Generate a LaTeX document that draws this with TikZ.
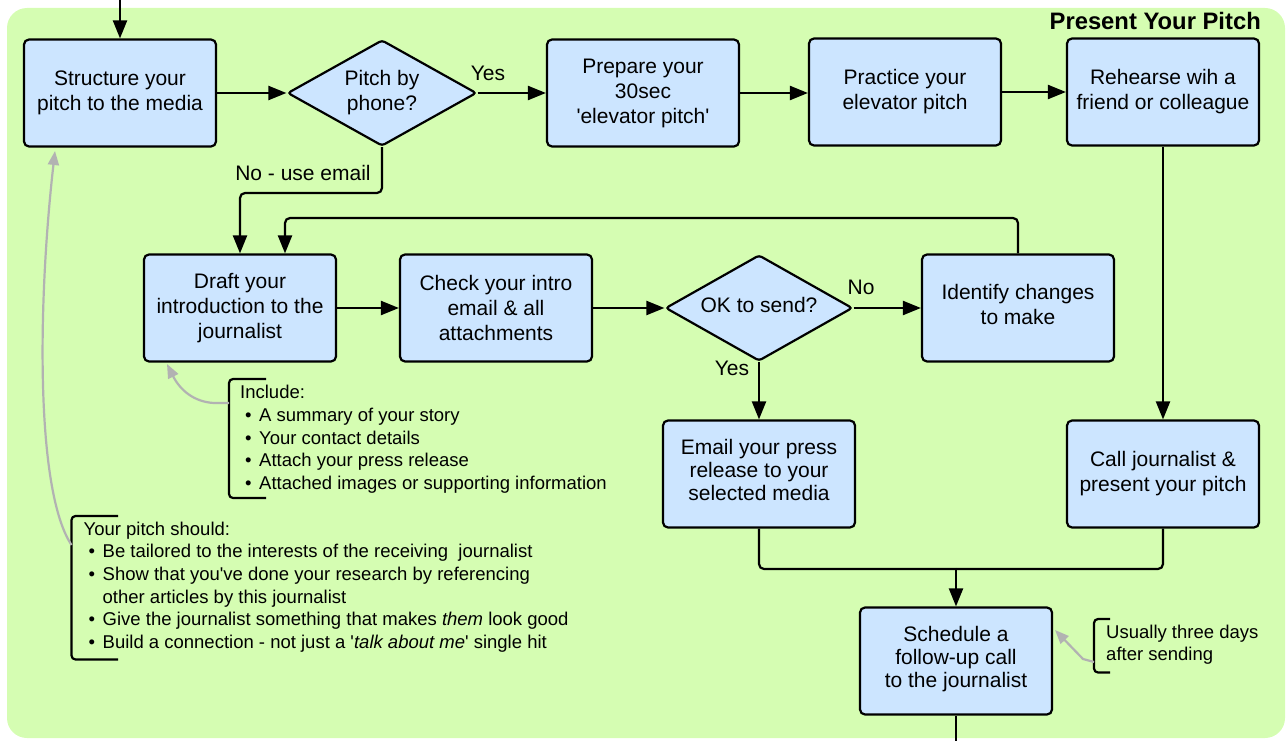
\documentclass[tikz,border=0pt]{standalone}
\usepackage{fontspec}
\setmainfont{Liberation Sans}
\usetikzlibrary{arrows.meta,shapes.geometric}
\definecolor{bggreen}{RGB}{213,253,178}
\definecolor{boxblue}{RGB}{204,229,255}
\definecolor{notegray}{RGB}{178,178,178}
\newcommand\bul{\hspace*{5pt}\makebox[14pt][l]{•}}
\newcommand\ind{\hspace*{19pt}}
\newcommand\q{\textquotesingle}
\newcommand\up[1]{\rule[-#1]{0pt}{#1}}
\begin{document}
\begin{tikzpicture}[x=1pt,y=-1pt,
  stepbox/.style={draw, line width=2.2pt, rounded corners=5pt, fill=boxblue,
    minimum width=192pt, minimum height=107pt, align=center, inner sep=0pt,
    font=\fontsize{21}{25}\selectfont},
  decision/.style={draw, diamond, aspect=1.78, line width=2.2pt, rounded corners=3pt,
    fill=boxblue, align=center, inner sep=0pt, font=\fontsize{21}{25}\selectfont},
  lbl/.style={inner sep=0pt, font=\fontsize{21}{25}\selectfont},
  note/.style={inner sep=0pt, font=\fontsize{18.5}{22.7}\selectfont, align=left, anchor=north west},
  conn/.style={line width=2.2pt, rounded corners=5pt, -{Triangle[length=18pt,width=14pt]}},
  link/.style={line width=2.2pt, rounded corners=5pt},
  gconn/.style={draw=notegray, line width=2.2pt, -{Triangle[length=14pt,width=11pt]}},
  brk/.style={line width=2.2pt, rounded corners=4pt}
]
\useasboundingbox (0,0) rectangle (1287,741);
\path[fill=bggreen, rounded corners=20pt] (7,8) rectangle (1285,738);

\node[inner sep=0pt, anchor=base east, font=\fontsize{23.8}{28}\selectfont\bfseries] (title) at (1261,30) {Present Your Pitch};

% main steps
\node[stepbox] (struct) at (120,93) {Structure your\\pitch to the media\up{2pt}};
\node[decision, minimum width=189pt, minimum height=106pt] (phone) at (382,93) {Pitch by\\phone?};
\node[stepbox] (prep) at (643,93) {Prepare your\\30sec\\\q elevator pitch\q};
\node[stepbox] (prac) at (905,92) {Practice your\\elevator pitch\up{3pt}};
\node[stepbox] (reh) at (1163,92) {Rehearse wih a\\friend or colleague};
\node[stepbox] (draft) at (240,308) {Draft your\\introduction to the\\journalist};
\node[stepbox] (check) at (496,308) {Check your intro\\email \& all\\attachments};
\node[decision, minimum width=187pt, minimum height=106pt] (ok) at (759,308) {OK to send?\up{6pt}};
\node[stepbox] (ident) at (1018,308) {Identify changes\\to make\up{8pt}};
\node[stepbox, font=\fontsize{21}{23}\selectfont] (email) at (759,474) {Email your press\\release to your\\selected media\up{8pt}};
\node[stepbox] (call) at (1163,474) {Call journalist \&\\present your pitch};
\node[stepbox, font=\fontsize{21}{23}\selectfont] (sched) at (956,661) {Schedule a\\follow-up call\\to the journalist\up{9pt}};

% labels
\node[lbl] (yes1) at (488,73) {Yes};
\node[lbl] (noemail) at (303,173) {No - use email};
\node[lbl] (no2) at (861,287) {No};
\node[lbl] (yes2) at (732,368) {Yes};

% coordinates
\coordinate (topin) at (120,0);
\coordinate (nb) at (240,193);
\coordinate (lp) at (285,218);
\coordinate (merge) at (956,569);
\coordinate (bottomout) at (956,741);

% connectors
\draw[conn] (topin) -- (struct.north);
\draw[conn] (struct.east) -- (phone.west);
\draw[conn] (phone.east) -- (prep.west);
\draw[conn] (prep.east) -- (prac.west |- prep.east);
\draw[conn] (prac.east) -- (reh.west);
\draw[conn] (phone.south) |- (nb) -- (draft.north);
\draw[conn] (ident.north) |- (lp) -- (lp |- draft.north);
\draw[conn] (draft.east) -- (check.west);
\draw[conn] (check.east) -- (ok.west);
\draw[conn] (ok.east) -- (ident.west);
\draw[conn] (ok.south) -- (email.north);
\draw[conn] (reh.south) -- (call.north);
\draw[link] (email.south) |- (merge);
\draw[link] (call.south) |- (merge);
\draw[conn] (merge) -- (sched.north);
\draw[link] (sched.south) -- (bottomout);

% annotations
\node[note] (inc) at (240,385) {Include:\\\bul A summary of your story\\\bul Your contact details\\\bul Attach your press release\\\bul Attached images or supporting information};
\draw[brk] (266,379) -| (229,498) -- (266,498);
\coordinate (incfrom) at (229,403);
\coordinate (inctip) at (167,364);
\draw[gconn] (incfrom) -- (214,403) .. controls (194,402) and (180,390) .. (inctip);

\node[note] (pitch) at (83.5,521.5) {Your pitch should:\\\bul Be tailored to the interests of the receiving\ \ journalist\\\bul Show that you\q ve done your research by referencing\\\ind other articles by this journalist\\\bul Give the journalist something that makes \textit{them} look good\\\bul Build a connection - not just a \q\textit{talk about me}\q\ single hit};
\draw[brk] (118,516) -| (71.5,659.5) -- (118,659.5);
\coordinate (pitchfrom) at (71.5,545);
\coordinate (pitchtip) at (55,151);
\draw[gconn] (pitchfrom) .. controls (35,490) and (38,300) .. (pitchtip);

\node[note, font=\fontsize{18.5}{22}\selectfont] (usual) at (1106,625) {Usually three days\\after sending};
\draw[brk] (1110,619) -| (1094,672.5) -- (1110,672.5);
\coordinate (usfrom) at (1094,662);
\coordinate (ustip) at (1055,630);
\draw[gconn] (usfrom) -- (1083,659) -- (ustip);
\end{tikzpicture}
\end{document}
